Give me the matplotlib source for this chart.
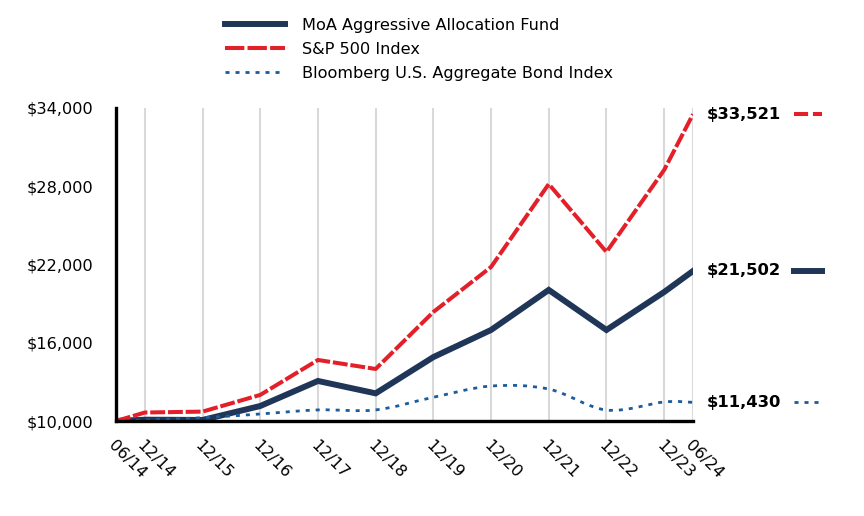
import numpy as np
import matplotlib
matplotlib.use('Agg')
import matplotlib.pyplot as plt
from matplotlib.path import Path
from matplotlib.patches import PathPatch
from matplotlib.lines import Line2D

# Data
dates = ['06/14', '12/14', '12/15', '12/16', '12/17', '12/18',
         '12/19', '12/20', '12/21', '12/22', '12/23', '06/24']
fund = [10000, 10100, 10080, 11150, 13070, 12120, 14900, 16980, 20050, 16980, 19890, 21502]
sp500 = [10000, 10650, 10720, 12000, 14680, 13990, 18360, 21810, 28170, 22960, 29250, 33521]
bond = [10000, 10080, 10250, 10540, 10850, 10850, 11820, 12680, 12450, 10840, 11460, 11430]

names = ['MoA Aggressive Allocation Fund', 'S&P 500 Index', 'Bloomberg U.S. Aggregate Bond Index']
end_labels = ['$21,502', '$33,521', '$11,430']

navy = '#1f3658'
red = '#e3202a'
blue = '#1a5c9e'

# time positions from the mm/yy labels
x = np.array([int(d[3:]) + int(d[:2]) / 12 for d in dates])

plt.rcParams['font.family'] = ['DejaVu Sans']
fig = plt.figure(figsize=(8.64, 5.16), dpi=100)
ax = fig.add_axes([116 / 864, 1 - 421 / 516, (693 - 116) / 864, (421 - 108) / 516])

ax.set_xlim(x[0], x[-1])
ax.set_ylim(10000, 34000)
ax.set_yticks(np.arange(10000, 34001, 6000))
ax.set_yticklabels(['${:,.0f}'.format(v) for v in np.arange(10000, 34001, 6000)], fontsize=11.6)
ax.set_xticks(x)
ax.set_xticklabels(dates, fontsize=11.6, rotation=-45, ha='left', va='top',
                   rotation_mode='anchor')
ax.tick_params(axis='y', length=0, pad=16)
ax.tick_params(axis='x', length=0, pad=12)

for xv in x[1:]:
    ax.axvline(xv, color='#d9d9d9', lw=1.5, zorder=0)

for s in ['top', 'right']:
    ax.spines[s].set_visible(False)
for s in ['left', 'bottom']:
    ax.spines[s].set_linewidth(2.4)
    ax.spines[s].set_color('black')
    ax.spines[s].set_zorder(5)

ax.plot(x, fund, color=navy, lw=4.3, solid_joinstyle='miter', zorder=3)
ax.plot(x, sp500, color=red, lw=2.9, dashes=(3.7, 0.7), zorder=3)

# smooth bond curve (Catmull-Rom as cubic Bezier segments)
pts = np.column_stack([x, bond])
verts = [tuple(pts[0])]
codes = [Path.MOVETO]
for i in range(len(pts) - 1):
    p0 = pts[max(i - 1, 0)]
    p1 = pts[i]
    p2 = pts[i + 1]
    p3 = pts[min(i + 2, len(pts) - 1)]
    c1 = p1 + (p2 - p0) / 6
    c2 = p2 - (p3 - p1) / 6
    verts += [tuple(c1), tuple(c2), tuple(p2)]
    codes += [Path.CURVE4] * 3
bond_patch = PathPatch(Path(verts, codes), facecolor='none', edgecolor=blue,
                       lw=2, linestyle=(0, (1.45, 2.15)), zorder=3)
ax.add_patch(bond_patch)

# end-value labels with line samples
styles = [dict(color=navy, lw=4.3),
          dict(color=red, lw=2.9, dashes=(3.5, 1.2)),
          dict(color=blue, lw=2, dashes=(1.45, 2.15))]
for vals, lab, st in zip([fund, sp500, bond], end_labels, styles):
    ax.annotate(lab, xy=(x[-1], vals[-1]), xytext=(10, 0), textcoords='offset points',
                fontsize=11.8, fontweight='bold', va='center', ha='left',
                annotation_clip=False)
    ax.plot([x[-1] + 1.75, x[-1] + 2.24], [vals[-1], vals[-1]], clip_on=False, **st)

# legend
handles = [Line2D([], [], color=navy, lw=4.3),
           Line2D([], [], color=red, lw=2.9, dashes=(4.8, 0.8)),
           Line2D([], [], color=blue, lw=2, dashes=(1.45, 2.15))]
fig.legend(handles, names, loc='upper left', bbox_to_anchor=(225 / 864, 1 - 18 / 516),
           frameon=False, fontsize=11.6, handlelength=3.7, handletextpad=1.1,
           labelspacing=0.56, borderpad=0, borderaxespad=0)

fig.savefig('out.png', dpi=100)
